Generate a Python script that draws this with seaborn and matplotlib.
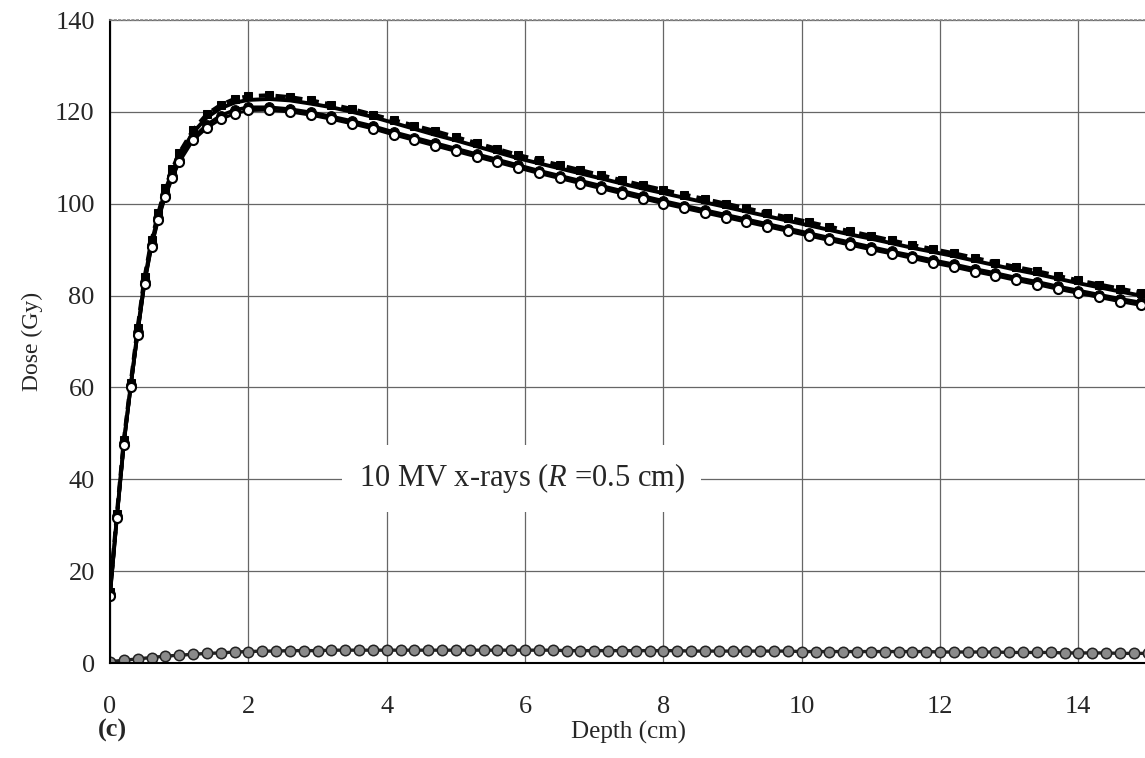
import numpy as np
import matplotlib
matplotlib.use("Agg")
import matplotlib.pyplot as plt
import seaborn as sns

# ---------------- data ----------------
depth = [0.0, 0.1, 0.2, 0.3, 0.4, 0.5, 0.6, 0.7, 0.8, 0.9, 1.0, 1.2, 1.4, 1.6, 1.8,
         2.0, 2.3, 2.6, 2.9, 3.2, 3.5, 3.8, 4.1, 4.4, 4.7, 5.0, 5.3, 5.6, 5.9,
         6.2, 6.5, 6.8, 7.1, 7.4, 7.7, 8.0, 8.3, 8.6, 8.9, 9.2, 9.5, 9.8,
         10.1, 10.4, 10.7, 11.0, 11.3, 11.6, 11.9, 12.2, 12.5, 12.8, 13.1,
         13.4, 13.7, 14.0, 14.3, 14.6, 14.9, 15.2]

# upper band, dashed line with filled squares
dose_a = [15.5, 32.5, 48.5, 61.0, 73.0, 84.0, 92.0, 98.0, 103.5, 107.5, 111.0,
          116.0, 119.5, 121.5, 122.8, 123.4, 123.6, 123.2, 122.5, 121.6,
          120.6, 119.4, 118.2, 117.0, 115.8, 114.5, 113.2, 111.9, 110.6,
          109.5, 108.4, 107.3, 106.2, 105.1, 104.0, 103.0, 102.0, 101.0,
          100.0, 99.0, 98.0, 97.0, 96.0, 95.0, 94.0, 93.0, 92.0, 91.0, 90.1,
          89.2, 88.2, 87.2, 86.2, 85.3, 84.3, 83.3, 82.4, 81.5, 80.6, 79.7]

# upper band, solid line
dose_b = [15.0, 32.0, 48.0, 60.5, 72.5, 83.5, 91.5, 97.5, 103.0, 107.0, 110.5,
          115.5, 118.8, 120.8, 122.0, 122.6, 122.8, 122.5, 121.8, 121.0,
          120.0, 118.9, 117.6, 116.3, 115.0, 113.8, 112.5, 111.2, 109.9,
          108.8, 107.7, 106.6, 105.5, 104.4, 103.3, 102.3, 101.3, 100.3,
          99.3, 98.3, 97.3, 96.3, 95.3, 94.3, 93.3, 92.4, 91.4, 90.4, 89.5,
          88.6, 87.6, 86.6, 85.6, 84.7, 83.7, 82.7, 81.8, 80.9, 80.0, 79.1]

# lower band, solid line with open circles
dose_c = [14.5, 31.5, 47.5, 60.0, 71.5, 82.5, 90.5, 96.5, 101.5, 105.5, 109.0,
          113.8, 116.5, 118.4, 119.6, 120.3, 120.4, 120.0, 119.3, 118.4,
          117.4, 116.3, 115.0, 113.8, 112.6, 111.4, 110.2, 109.0, 107.8,
          106.6, 105.5, 104.4, 103.3, 102.2, 101.1, 100.0, 99.0, 98.0, 97.0,
          96.0, 95.0, 94.0, 93.0, 92.0, 91.0, 90.0, 89.1, 88.1, 87.1, 86.2,
          85.2, 84.3, 83.3, 82.4, 81.4, 80.5, 79.6, 78.7, 77.9, 77.0]

# lower band, filled circles
dose_d = [15.0, 32.0, 48.0, 60.5, 72.0, 83.0, 91.0, 97.0, 102.0, 106.0, 109.5,
          114.3, 117.2, 119.2, 120.4, 121.0, 121.0, 120.6, 119.9, 119.0,
          118.0, 116.9, 115.6, 114.4, 113.2, 112.0, 110.8, 109.6, 108.4,
          107.2, 106.1, 105.0, 103.9, 102.8, 101.7, 100.6, 99.6, 98.6, 97.6,
          96.6, 95.6, 94.6, 93.6, 92.6, 91.6, 90.6, 89.6, 88.7, 87.7, 86.8,
          85.8, 84.9, 83.9, 83.0, 82.0, 81.1, 80.2, 79.3, 78.5, 77.6]

# bottom series (gray markers), depths every 0.2 cm
depth_e = [round(0.2 * i, 1) for i in range(77)]
dose_e = [0.3, 0.6, 0.9, 1.2, 1.5, 1.7, 1.9, 2.1, 2.2, 2.4, 2.5, 2.6, 2.6,
          2.7, 2.7, 2.7, 2.8, 2.8, 2.8, 2.8, 2.8, 2.8, 2.8, 2.8, 2.8, 2.8,
          2.8, 2.8, 2.8, 2.8, 2.8, 2.8, 2.8, 2.7, 2.7, 2.7, 2.7, 2.7, 2.7,
          2.7, 2.7, 2.7, 2.6, 2.6, 2.6, 2.6, 2.6, 2.6, 2.6, 2.6, 2.5, 2.5,
          2.5, 2.5, 2.5, 2.5, 2.5, 2.5, 2.5, 2.5, 2.4, 2.4, 2.4, 2.4, 2.4,
          2.3, 2.3, 2.3, 2.3, 2.2, 2.2, 2.2, 2.2, 2.1, 2.1, 2.1, 2.1]

x_ticks = [0, 2, 4, 6, 8, 10, 12, 14]
y_ticks = [0, 20, 40, 60, 80, 100, 120, 140]

# ---------------- style ----------------
sns.set_style("white")
plt.rcParams['font.family'] = ['Liberation Serif', 'DejaVu Serif']
plt.rcParams['mathtext.fontset'] = 'custom'
plt.rcParams['mathtext.it'] = 'Liberation Serif:italic'
plt.rcParams['mathtext.rm'] = 'Liberation Serif'

fig = plt.figure(figsize=(11.45, 7.58), dpi=100)
ax = fig.add_axes([0.0961, 0.1253, 0.9061, 0.8483])

# grid
ax.set_axisbelow(True)
ax.grid(True, color='#666666', linewidth=0.9)

sns.lineplot(x=depth, y=dose_b, ax=ax, color='black', linewidth=2.8,
             estimator=None, sort=False)
sns.lineplot(x=depth, y=dose_a, ax=ax, color='black', linewidth=3.0,
             linestyle=(0, (2.5, 1.5)), marker='s', markersize=6,
             markeredgecolor='black', markerfacecolor='black',
             estimator=None, sort=False)
sns.lineplot(x=depth, y=dose_d, ax=ax, color='black', linewidth=2.6,
             marker='o', markersize=7, markerfacecolor='black',
             markeredgecolor='black', estimator=None, sort=False)
sns.lineplot(x=depth, y=dose_c, ax=ax, color='black', linewidth=2.2,
             marker='o', markersize=6.5, markerfacecolor='white',
             markeredgecolor='black', markeredgewidth=1.5,
             estimator=None, sort=False)
sns.lineplot(x=depth_e, y=dose_e, ax=ax, color='#222222', linewidth=2.4,
             marker='o', markersize=7.5, markerfacecolor='#8a8a8a',
             markeredgecolor='#222222', markeredgewidth=1.1,
             estimator=None, sort=False)

ax.set_xlim(0, 15)
ax.set_ylim(0, 140)
ax.set_xticks(x_ticks)
ax.set_yticks(y_ticks)
ax.tick_params(axis='both', labelsize=19, length=0)
ax.tick_params(axis='x', pad=24)
ax.tick_params(axis='y', pad=11)

for side in ['left', 'bottom']:
    ax.spines[side].set_color('black')
    ax.spines[side].set_linewidth(1.5)
ax.spines['right'].set_visible(False)
ax.spines['top'].set_color('#888888')
ax.spines['top'].set_linestyle(':')
ax.spines['top'].set_linewidth(1.2)

ax.set_xlabel('Depth (cm)', fontsize=18, labelpad=2)
ax.set_ylabel('Dose (Gy)', fontsize=17, labelpad=9)

ax.text(5.95, 40.2, r'10 MV x-rays ($R$ =0.5 cm)', fontsize=22,
        ha='center', va='center',
        bbox=dict(facecolor='white', edgecolor='none', pad=12))

fig.text(0.098, 0.037, '(c)', fontsize=19, fontweight='bold',
         ha='center', va='center')

fig.savefig('out.png', dpi=100)
